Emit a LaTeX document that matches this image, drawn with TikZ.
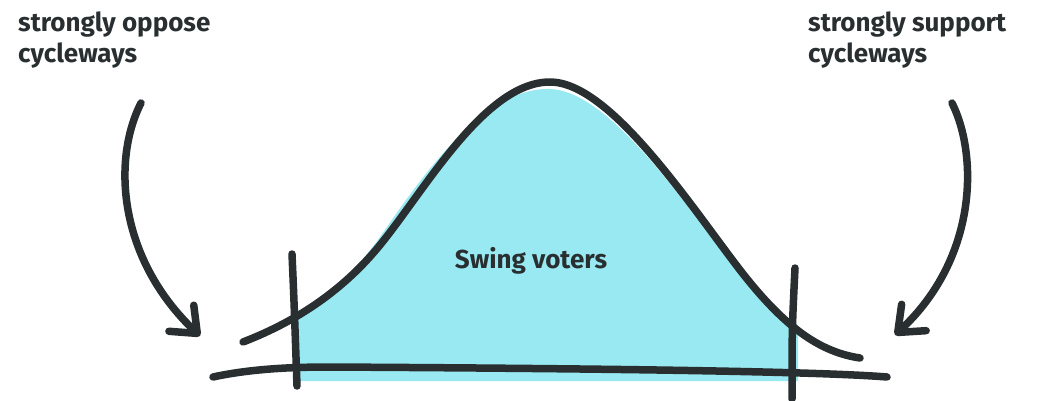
\documentclass[tikz,border=0pt]{standalone}
\usepackage{fontspec}
\setmainfont{Fira Sans}
\usetikzlibrary{arrows.meta}
\definecolor{ink}{RGB}{41,46,48}
\definecolor{swing}{HTML}{99E9F2}

\begin{document}
\begin{tikzpicture}[x=1pt,y=-1pt,
  lbl/.style={inner sep=0pt,align=left,text=ink,font=\bfseries\fontsize{26}{31}\selectfont},
  pen/.style={draw=ink,line width=7.5pt,line cap=round,line join=round},
  hint/.style={pen,-{Straight Barb[length=22pt,width=36pt,round]}}
]
  \useasboundingbox (0,0) rectangle (1041,401);
  % shaded middle of the curve
  \fill[swing] (296,381) -- (296,318) .. controls (318,300) and (352,278) .. (382,234)
    .. controls (425,172) and (485,87) .. (550,89) .. controls (610,91) and (685,205) .. (735,268)
    .. controls (760,298) and (780,315) .. (798,325) -- (798,381) -- cycle;

  \node[lbl,anchor=north west] (oppose)  at (18,12)  {strongly oppose\\cycleways};
  \node[lbl,anchor=north west] (support) at (808,12) {strongly support\\cycleways};
  \node[lbl,anchor=base]       (voters)  at (531,268) {Swing voters};

  % axis, bell curve, cut-offs
  \draw[pen] (213,377) .. controls (250,369) and (290,367) .. (330,367) .. controls (500,368) and (800,370) .. (887,377);
  \draw[pen] (243,342) .. controls (300,320) and (345,288) .. (380,245) .. controls (425,190) and (485,82) .. (550,82)
    .. controls (610,82) and (690,205) .. (740,270) .. controls (785,328) and (820,352) .. (860,358);
  \draw[pen] (292,254) .. controls (294,300) .. (297,386);
  \draw[pen] (795,268) .. controls (792,330) .. (792,399);

  % arrows
  \coordinate (opp-from) at (141,103);
  \coordinate (opp-to)   at (200,336);
  \coordinate (sup-from) at (952,103);
  \coordinate (sup-to)   at (895,335);
  \draw[hint] (opp-from) .. controls (112,160) and (118,258) .. (opp-to);
  \draw[hint] (sup-from) .. controls (978,155) and (978,258) .. (sup-to);
\end{tikzpicture}
\end{document}
